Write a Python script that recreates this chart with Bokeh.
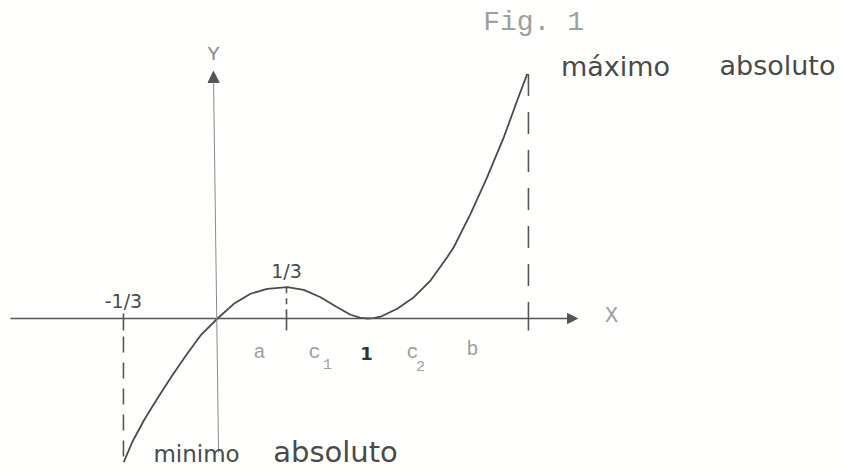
from bokeh.plotting import figure
from bokeh.models import Range1d, Arrow, NormalHead, Label
from bokeh.embed import file_html
from bokeh.resources import INLINE

# Curve of f on [-1/3, b], in drawing units (origin at the axes crossing)
curve_x = [-0.625, -0.569, -0.491, -0.402, -0.302, -0.202, -0.113, 0.0, 0.109, 0.220,
           0.331, 0.465, 0.575, 0.687, 0.798, 0.887, 0.950, 0.998, 1.040, 1.087, 1.198,
           1.309, 1.420, 1.531, 1.575, 1.687, 1.798, 1.909, 1.998, 2.065]
curve_y = [-0.958, -0.825, -0.680, -0.535, -0.380, -0.235, -0.113, 0.0, 0.098, 0.165,
           0.198, 0.209, 0.191, 0.142, 0.075, 0.025, 0.006, 0.0, 0.002, 0.012, 0.065,
           0.142, 0.253, 0.409, 0.475, 0.698, 0.942, 1.209, 1.453, 1.631]

# Axes extents
x_axis_from, x_axis_to = -1.38, 2.40
y_axis_bottom, y_axis_top = -0.893, 1.647
y_axis_x_bottom, y_axis_x_top = 0.007, -0.027

# Marked abscissas: -1/3 (minimum), 1/3 (local max), b (maximum)
mark_x = [-0.627, 0.460, 2.073]
mark_labels = ["-1/3", "1/3", ""]
mark_label_y = [0.12, 0.32, None]
drop_top = [-0.12, 0.209, 1.630]
drop_bottom = [-0.927, 0.030, 0.030]
drop_dash = ["16 10", "6 5", "22 16"]
tick_low, tick_high = -0.08, 0.033

# Names along the x axis
pt_names = ["a", "c", "c", "b"]
pt_x = [0.280, 0.647, 1.300, 1.700]
pt_y = [-0.227, -0.227, -0.227, -0.207]
sub_names = ["1", "2"]
sub_x = [0.733, 1.353]
sub_y = [-0.300, -0.315]
one_x, one_y = 0.993, -0.233

INK = "#4a4a4a"
TYPE = "#9e9e9e"
HAND = "DejaVu Sans"
MONO = "Liberation Mono"

p = figure(width=843, height=473, output_backend="svg", toolbar_location=None,
           x_axis_location=None, y_axis_location=None,
           x_range=Range1d(-217 / 150, 626 / 150), y_range=Range1d(-155 / 150, 318 / 150),
           min_border=0, outline_line_color=None,
           background_fill_color="#fffffd", border_fill_color="#fffffd")
p.grid.visible = False

# Axes
p.add_layout(Arrow(x_start=x_axis_from, y_start=0, x_end=x_axis_to, y_end=0,
                   line_color="#555555", line_width=1.6,
                   end=NormalHead(size=10, fill_color="#555555", line_color="#555555")))
p.add_layout(Arrow(x_start=y_axis_x_bottom, y_start=y_axis_bottom,
                   x_end=y_axis_x_top, y_end=y_axis_top,
                   line_color="#8a8a8a", line_width=1.0,
                   end=NormalHead(size=11, fill_color="#555555", line_color="#555555")))

# Ticks and dashed drop lines
p.segment(x0=mark_x, y0=[tick_low] * 3, x1=mark_x, y1=[tick_high] * 3,
          line_color="#555555", line_width=1.6)
for mx, top, bot, dash in zip(mark_x, drop_top, drop_bottom, drop_dash):
    p.line([mx, mx], [top, bot], line_color="#555555", line_width=1.6, line_dash=dash)

# The curve
p.line(curve_x, curve_y, line_color=INK, line_width=1.8)


def hand(x, y, text, size, **kw):
    p.add_layout(Label(x=x, y=y, text=text, text_align="center", text_baseline="middle",
                       text_font=HAND, text_font_size=size, text_color=kw.get("color", INK),
                       text_font_style=kw.get("style", "normal")))


def typed(x, y, text, size, color=TYPE):
    p.add_layout(Label(x=x, y=y, text=text, text_align="center", text_baseline="middle",
                       text_font=MONO, text_font_size=size, text_color=color))


# Handwritten labels
for mx, lab, ly in zip(mark_x, mark_labels, mark_label_y):
    if lab:
        hand(mx, ly, lab, "19px")
hand(one_x, one_y, "1", "18px", color="#333333", style="bold")
hand(2.653, 1.683, "máximo", "27px")
hand(3.733, 1.690, "absoluto", "27px")
hand(-0.14, -0.900, "minimo", "23px")
hand(0.787, -0.893, "absoluto", "29px")

# Typed labels
for nm, nx, ny in zip(pt_names, pt_x, pt_y):
    typed(nx, ny, nm, "20px")
for nm, nx, ny in zip(sub_names, sub_x, sub_y):
    typed(nx, ny, nm, "15px")
typed(2.627, 0.013, "X", "22px")
typed(-0.027, 1.76, "Y", "21px", color="#8a8a8a")
typed(2.107, 1.973, "Fig. 1", "28px")

open("out.html", "w").write(file_html(p, INLINE))
